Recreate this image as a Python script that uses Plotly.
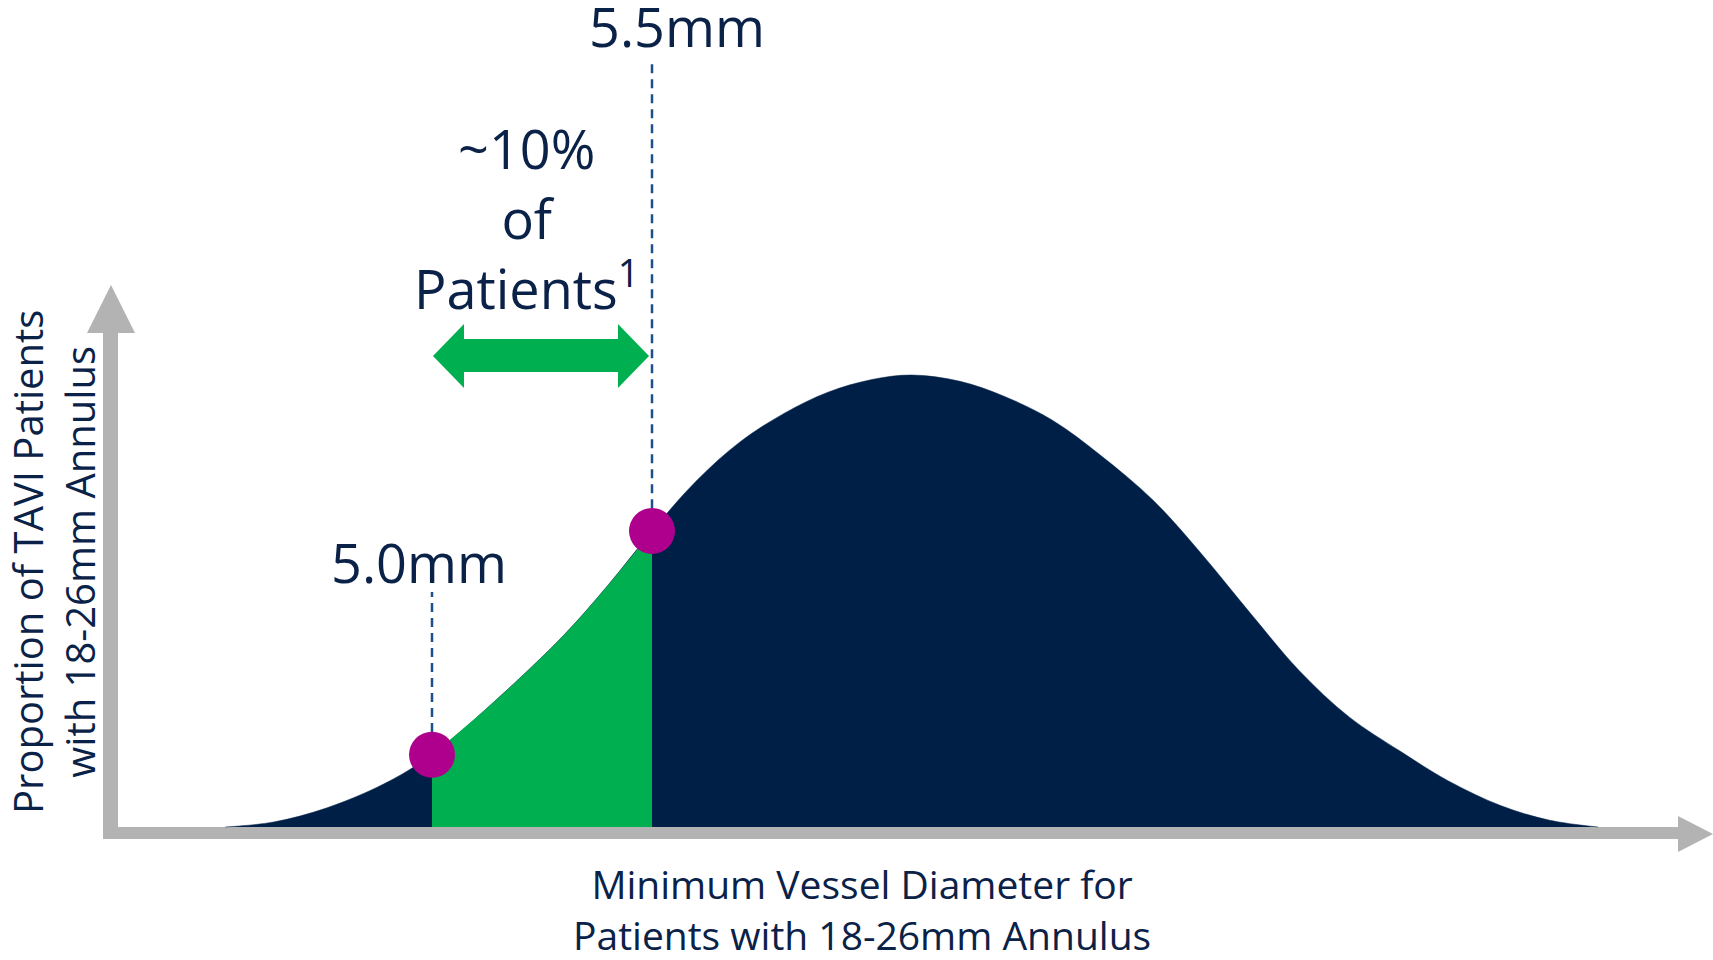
import plotly.graph_objects as go

# Distribution of minimum vessel diameter (mm) vs. relative proportion of patients
diameter_mm = [4.53, 4.64, 4.76, 4.89, 5.00, 5.15, 5.30, 5.40, 5.50, 5.60, 5.70, 5.80,
               5.90, 6.00, 6.09, 6.20, 6.30, 6.41, 6.52, 6.64, 6.75, 6.86, 6.97, 7.085,
               7.20, 7.31, 7.43, 7.54, 7.65]
proportion = [0.0, 0.011, 0.042, 0.095, 0.16, 0.285, 0.425, 0.535, 0.655, 0.765, 0.852, 0.915,
              0.962, 0.99, 1.0, 0.986, 0.953, 0.90, 0.822, 0.722, 0.603, 0.473, 0.347, 0.243,
              0.168, 0.102, 0.047, 0.015, 0.0]

# Highlighted band between the two thresholds
band_low, band_high = 5.0, 5.5
threshold_mm = [5.0, 5.5]
threshold_labels = ["5.0mm", "5.5mm"]
leader_tops = [0.52, 1.69]          # top end of each dashed leader (y units)
band_text = "~10%<br>of<br>Patients<sup>1</sup>"

x_title = "Minimum Vessel Diameter for<br>Patients with 18-26mm Annulus"
y_title = "Proportion of TAVI Patients<br>with 18-26mm Annulus"

NAVY = "#001f47"
GREEN = "#00b050"
MAGENTA = "#ae008c"
GREY = "#b3b3b3"
DASH_BLUE = "#1d4f8a"
TEXT = "#0b2248"
FONT = "Open Sans"

W, H = 1713, 960
# Axis scale: pixel column of 5.0 mm and pixels per mm; pixel row of y=0 and pixels per unit
X_REF_PX, PX_PER_MM = 432, 440
Y_ZERO_PX, PX_PER_UNIT = 827, 452
x_range = [5.0 - X_REF_PX / PX_PER_MM, 5.0 + (W - X_REF_PX) / PX_PER_MM]
y_range = [-(H - Y_ZERO_PX) / PX_PER_UNIT, Y_ZERO_PX / PX_PER_UNIT]


def px(xp, yp):
    """Pixel position -> paper coordinates."""
    return xp / W, 1 - yp / H


def path(points):
    pts = [px(a, b) for a, b in points]
    return "M " + " L ".join(f"{a:.5f},{b:.5f}" for a, b in pts) + " Z"


band_x = [d for d in diameter_mm if band_low <= d <= band_high]
band_y = [p for d, p in zip(diameter_mm, proportion) if band_low <= d <= band_high]
dot_y = [proportion[diameter_mm.index(t)] for t in threshold_mm]

fig = go.Figure()

fig.add_trace(go.Scatter(
    x=diameter_mm, y=proportion, mode="lines", fill="tozeroy",
    line=dict(color=NAVY, width=0.5, shape="spline", smoothing=1),
    fillcolor=NAVY, hoverinfo="skip", showlegend=False))

fig.add_trace(go.Scatter(
    x=band_x, y=band_y, mode="lines", fill="tozeroy",
    line=dict(color=GREEN, width=0, shape="spline", smoothing=1),
    fillcolor=GREEN, hoverinfo="skip", showlegend=False))

# Dashed leaders from each threshold marker up to its label
for t, yv, top in zip(threshold_mm, dot_y, leader_tops):
    fig.add_trace(go.Scatter(
        x=[t, t], y=[yv + 0.05, top], mode="lines",
        line=dict(color=DASH_BLUE, width=2.5, dash="9px,6px"),
        hoverinfo="skip", showlegend=False))

fig.add_trace(go.Scatter(
    x=threshold_mm, y=dot_y, mode="markers",
    marker=dict(color=MAGENTA, size=46, line=dict(width=0)),
    hoverinfo="skip", showlegend=False))

shapes = [
    # vertical axis arrow
    dict(type="path", xref="paper", yref="paper", fillcolor=GREY, line=dict(width=0), layer="below",
         path=path([(103, 839), (103, 333), (87, 333), (111, 285), (135, 333), (118, 333), (118, 839)])),
    # horizontal axis arrow
    dict(type="path", xref="paper", yref="paper", fillcolor=GREY, line=dict(width=0), layer="below",
         path=path([(103, 827), (1678, 827), (1678, 816), (1713, 834), (1678, 852), (1678, 839), (103, 839)])),
    # double-headed arrow spanning the highlighted band
    dict(type="path", xref="paper", yref="paper", fillcolor=GREEN, line=dict(width=0),
         path=path([(433, 356), (464, 324), (464, 339), (618, 339), (618, 324), (649, 356),
                    (618, 388), (618, 372), (464, 372), (464, 388)])),
]

annotations = []
label_pos = [(419, 562), (677, 26)]
for lab, (ax_, ay_) in zip(threshold_labels, label_pos):
    x, y = px(ax_, ay_)
    annotations.append(dict(xref="paper", yref="paper", x=x, y=y, text=lab, showarrow=False,
                            xanchor="center", yanchor="middle",
                            font=dict(family=FONT, size=54, color=TEXT)))

x, y = px(526, 218)
annotations.append(dict(xref="paper", yref="paper", x=x, y=y, text=band_text, showarrow=False,
                        xanchor="center", yanchor="middle", align="center",
                        font=dict(family=FONT, size=54, color=TEXT)))

x, y = px(862, 909)
annotations.append(dict(xref="paper", yref="paper", x=x, y=y, text=x_title, showarrow=False,
                        xanchor="center", yanchor="middle", align="center",
                        font=dict(family=FONT, size=39, color=TEXT)))

x, y = px(53, 562)
annotations.append(dict(xref="paper", yref="paper", x=x, y=y, text=y_title, showarrow=False,
                        xanchor="center", yanchor="middle", align="center", textangle=-90,
                        font=dict(family=FONT, size=40, color=TEXT)))

fig.update_layout(
    width=W, height=H,
    margin=dict(l=0, r=0, t=0, b=0),
    paper_bgcolor="white", plot_bgcolor="white",
    xaxis=dict(range=x_range, visible=False, fixedrange=True),
    yaxis=dict(range=y_range, visible=False, fixedrange=True),
    shapes=shapes, annotations=annotations,
    showlegend=False,
)

fig.write_html("out.html", config={"displayModeBar": False})
